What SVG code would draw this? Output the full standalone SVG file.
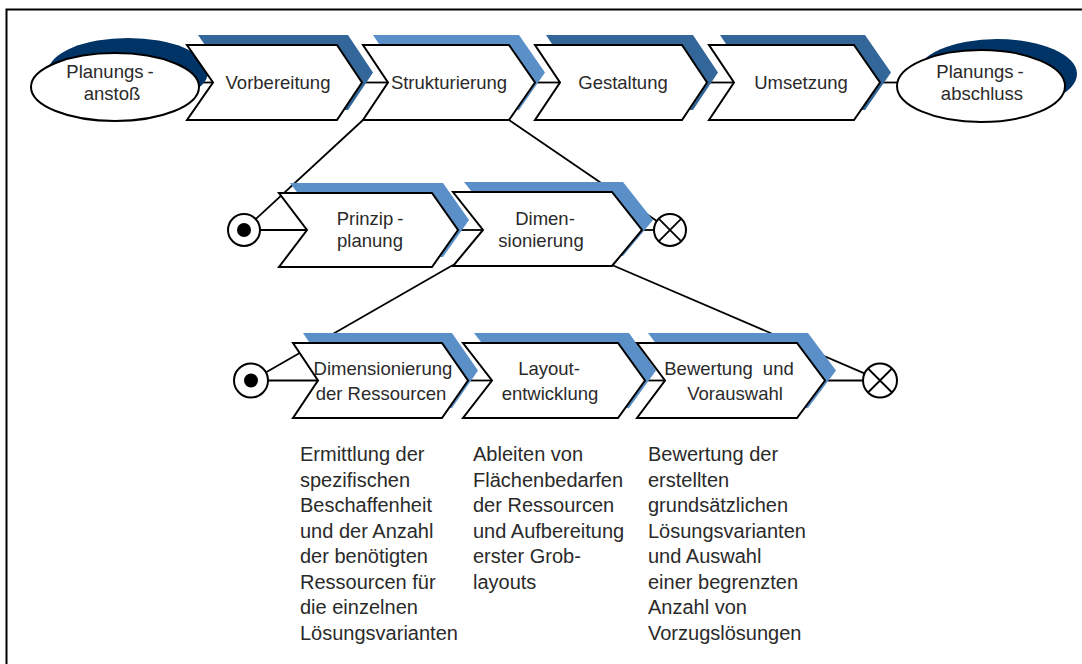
<svg xmlns="http://www.w3.org/2000/svg" width="1082" height="664" viewBox="0 0 1082 664">
  <style>
    .frame { fill: none; stroke: #000; stroke-width: 2; }
    .box { fill: #fff; stroke: #000; stroke-width: 2; stroke-linejoin: miter; }
    .sh-dark { fill: #336699; }
    .sh-light { fill: #5b8fc8; }
    .sh-navy { fill: #003366; }
    .wire { fill: none; stroke: #000; stroke-width: 1.8; }
    .evt { fill: #fff; stroke: #000; stroke-width: 2; }
    .dot { fill: #000; }
    .lbl { font-family: "Liberation Sans", Arial, sans-serif; font-size: 18.5px; fill: #2a2a2a; text-anchor: middle; }
    .desc { font-family: "Liberation Sans", Arial, sans-serif; font-size: 20px; fill: #2a2a2a; }
  </style>

  <!-- outer frame (top and left edge) -->
  <path class="frame" d="M6.5,664 V9.5 H1082"/>

  <!-- connectors -->
  <g id="connectors">
    <!-- main process row -->
    <line class="wire" x1="198" y1="82.5" x2="213" y2="82.5"/>
    <line class="wire" x1="362" y1="82.5" x2="388" y2="82.5"/>
    <line class="wire" x1="535" y1="82.5" x2="560" y2="82.5"/>
    <line class="wire" x1="707" y1="82.5" x2="734" y2="82.5"/>
    <line class="wire" x1="880" y1="82.5" x2="897" y2="82.5"/>
    <!-- Strukturierung refinement -->
    <line class="wire" x1="363" y1="120" x2="255.7" y2="219.1"/>
    <line class="wire" x1="509" y1="120" x2="656.8" y2="221"/>
    <line class="wire" x1="260" y1="230" x2="307" y2="230"/>
    <line class="wire" x1="458" y1="230" x2="483" y2="230"/>
    <line class="wire" x1="642" y1="230" x2="654" y2="230"/>
    <!-- Dimensionierung refinement -->
    <line class="wire" x1="453" y1="265" x2="265.7" y2="372.5"/>
    <line class="wire" x1="612" y1="265" x2="864.4" y2="373.3"/>
    <line class="wire" x1="268" y1="380.5" x2="318" y2="380.5"/>
    <line class="wire" x1="468" y1="380.5" x2="492" y2="380.5"/>
    <line class="wire" x1="645" y1="380.5" x2="665" y2="380.5"/>
    <line class="wire" x1="825" y1="380.5" x2="863" y2="380.5"/>
  </g>

  <!-- main process row -->
  <g id="planungsanstoss">
    <ellipse class="sh-navy" cx="128" cy="72" rx="80" ry="34"/>
    <ellipse class="evt" cx="115" cy="87" rx="84" ry="34"/>
    <text class="lbl" x="110" y="78">Planungs<tspan dx="4">-</tspan></text>
    <text class="lbl" x="112" y="100">anstoß</text>
  </g>

  <g id="vorbereitung">
    <polygon class="sh-dark" transform="translate(11,-10)" points="187,45 337,45 362,82.5 337,120 187,120 213,82.5"/>
    <polygon class="box" points="187,45 337,45 362,82.5 337,120 187,120 213,82.5"/>
    <text class="lbl" x="278" y="89">Vorbereitung</text>
  </g>

  <g id="strukturierung">
    <polygon class="sh-light" transform="translate(10,-10)" points="363,45 509,45 535,82.5 509,120 363,120 388,82.5"/>
    <polygon class="box" points="363,45 509,45 535,82.5 509,120 363,120 388,82.5"/>
    <text class="lbl" x="449" y="89">Strukturierung</text>
  </g>

  <g id="gestaltung">
    <polygon class="sh-dark" transform="translate(11,-10)" points="535,45 682,45 707,82.5 682,120 535,120 560,82.5"/>
    <polygon class="box" points="535,45 682,45 707,82.5 682,120 535,120 560,82.5"/>
    <text class="lbl" x="623" y="89">Gestaltung</text>
  </g>

  <g id="umsetzung">
    <polygon class="sh-dark" transform="translate(11,-10)" points="709,45 854,45 880,82.5 854,120 709,120 734,82.5"/>
    <polygon class="box" points="709,45 854,45 880,82.5 854,120 709,120 734,82.5"/>
    <text class="lbl" x="801" y="89">Umsetzung</text>
  </g>

  <g id="planungsabschluss">
    <ellipse class="sh-navy" cx="997" cy="74" rx="80" ry="35"/>
    <ellipse class="evt" cx="981" cy="86" rx="84" ry="36"/>
    <text class="lbl" x="980" y="78">Planungs<tspan dx="4">-</tspan></text>
    <text class="lbl" x="982" y="100">abschluss</text>
  </g>

  <!-- Strukturierung sub-process -->
  <g id="start-1">
    <circle class="evt" cx="244" cy="230" r="16"/>
    <circle class="dot" cx="244" cy="230" r="7"/>
  </g>

  <g id="prinzipplanung">
    <polygon class="sh-light" transform="translate(11,-10)" points="279,193 432,193 458,230 432,267 279,267 307,230"/>
    <polygon class="box" points="279,193 432,193 458,230 432,267 279,267 307,230"/>
    <text class="lbl" x="370" y="225">Prinzip<tspan dx="4">-</tspan></text>
    <text class="lbl" x="370" y="247">planung</text>
  </g>

  <g id="dimensionierung">
    <polygon class="sh-light" transform="translate(11,-10)" points="453,192 612,192 642,230 612,266 453,266 483,230"/>
    <polygon class="box" points="453,192 612,192 642,230 612,266 453,266 483,230"/>
    <text class="lbl" x="545" y="225">Dimen-</text>
    <text class="lbl" x="541" y="247">sionierung</text>
  </g>

  <g id="end-1">
    <circle class="evt" cx="670" cy="230" r="16"/>
    <path class="wire" d="M658.7,218.7 L681.3,241.3 M681.3,218.7 L658.7,241.3"/>
  </g>

  <!-- Dimensionierung sub-process -->
  <g id="start-2">
    <circle class="evt" cx="251" cy="380.5" r="17"/>
    <circle class="dot" cx="251" cy="380.5" r="7"/>
  </g>

  <g id="dim-ressourcen">
    <polygon class="sh-light" transform="translate(10,-10)" points="293,343 442,343 468,380.5 442,418 293,418 318,380.5"/>
    <polygon class="box" points="293,343 442,343 468,380.5 442,418 293,418 318,380.5"/>
    <text class="lbl" x="383" y="375">Dimensionierung</text>
    <text class="lbl" x="381" y="400">der Ressourcen</text>
  </g>

  <g id="layoutentwicklung">
    <polygon class="sh-light" transform="translate(11,-10)" points="463,343 618,343 645,380.5 618,418 463,418 492,380.5"/>
    <polygon class="box" points="463,343 618,343 645,380.5 618,418 463,418 492,380.5"/>
    <text class="lbl" x="549" y="375">Layout-</text>
    <text class="lbl" x="550" y="400">entwicklung</text>
  </g>

  <g id="bewertung">
    <polygon class="sh-light" transform="translate(11,-10)" points="637,343 797,343 825,380.5 797,418 637,418 665,380.5"/>
    <polygon class="box" points="637,343 797,343 825,380.5 797,418 637,418 665,380.5"/>
    <text class="lbl" x="729" y="375">Bewertung <tspan dx="5">und</tspan></text>
    <text class="lbl" x="735" y="400">Vorauswahl</text>
  </g>

  <g id="end-2">
    <circle class="evt" cx="880" cy="380.5" r="17"/>
    <path class="wire" d="M868,368.5 L892,392.5 M892,368.5 L868,392.5"/>
  </g>

  <!-- activity descriptions -->
  <g id="desc-ressourcen">
    <text class="desc" x="300" y="461">Ermittlung der</text>
    <text class="desc" x="300" y="486.5">spezifischen</text>
    <text class="desc" x="300" y="512">Beschaffenheit</text>
    <text class="desc" x="300" y="537.5">und der Anzahl</text>
    <text class="desc" x="300" y="563">der benötigten</text>
    <text class="desc" x="300" y="588.5">Ressourcen für</text>
    <text class="desc" x="300" y="614">die einzelnen</text>
    <text class="desc" x="300" y="639.5">Lösungsvarianten</text>
  </g>

  <g id="desc-layout">
    <text class="desc" x="473" y="461">Ableiten von</text>
    <text class="desc" x="473" y="486.5">Flächenbedarfen</text>
    <text class="desc" x="473" y="512">der Ressourcen</text>
    <text class="desc" x="473" y="537.5">und Aufbereitung</text>
    <text class="desc" x="473" y="563">erster Grob-</text>
    <text class="desc" x="473" y="588.5">layouts</text>
  </g>

  <g id="desc-bewertung">
    <text class="desc" x="648" y="461">Bewertung der</text>
    <text class="desc" x="648" y="486.5">erstellten</text>
    <text class="desc" x="648" y="512">grundsätzlichen</text>
    <text class="desc" x="648" y="537.5">Lösungsvarianten</text>
    <text class="desc" x="648" y="563">und Auswahl</text>
    <text class="desc" x="648" y="588.5">einer begrenzten</text>
    <text class="desc" x="648" y="614">Anzahl von</text>
    <text class="desc" x="648" y="639.5">Vorzugslösungen</text>
  </g>
</svg>
